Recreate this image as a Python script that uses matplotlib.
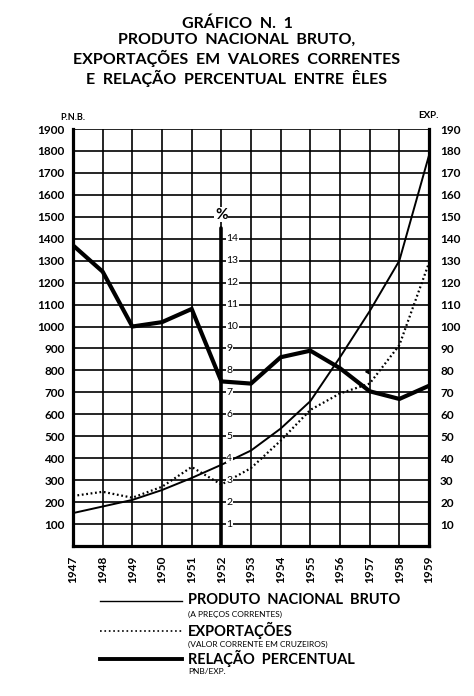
import matplotlib.pyplot as plt

plt.rcParams['font.family'] = ['Lato', 'DejaVu Sans']

years = list(range(1947, 1960))
pnb = [150, 180, 210, 255, 310, 370, 435, 535, 660, 860, 1070, 1300, 1780]
exportacoes = [22.8, 24.7, 22.0, 27.0, 36.0, 28.0, 35.5, 48.0, 62.0, 69.5, 74.0, 91.5, 129.0]
relacao = [13.7, 12.5, 10.0, 10.2, 10.8, 7.5, 7.4, 8.6, 8.9, 8.1, 7.05, 6.7, 7.3]

pnb_ticks = list(range(100, 2000, 100))
exp_ticks = list(range(10, 200, 10))
pct_ticks = list(range(1, 15))

titulo = "GRÁFICO  N.  1\nPRODUTO  NACIONAL  BRUTO,\nEXPORTAÇÕES  EM  VALORES  CORRENTES\nE  RELAÇÃO  PERCENTUAL  ENTRE  ÊLES"
W = "bold"

fig = plt.figure(figsize=(4.74, 6.96), dpi=100)
fig.text(0.5, 1 - 16 / 696, titulo, ha="center", va="top", fontsize=11.5, fontweight=W,
         linespacing=1.2)

ax = fig.add_axes([73 / 474, 1 - 546 / 696, 356 / 474, 417 / 696])
ax.set_xlim(1947, 1959)
ax.set_ylim(0, 1900)

# grid
for y in pnb_ticks:
    ax.axhline(y, color="black", lw=1.2, zorder=1)
for x in years:
    ax.axvline(x, color="black", lw=1.2, zorder=1)

for s in ["left", "bottom", "right"]:
    ax.spines[s].set_linewidth(2.3)
ax.spines["top"].set_visible(False)

ax.set_yticks(pnb_ticks)
ax.set_yticklabels([str(v) for v in pnb_ticks], fontsize=8.5, fontweight=W)
ax.tick_params(axis="y", length=0, pad=6)
ax.set_xticks(years)
ax.set_xticklabels([str(v) for v in years], rotation=90, fontsize=8.5, fontweight=W)
ax.tick_params(axis="x", length=0, pad=7)

ax2 = ax.twinx()
ax2.set_ylim(0, 190)
ax2.set_yticks(exp_ticks)
ax2.set_yticklabels([str(v) for v in exp_ticks], fontsize=8.5, fontweight=W)
ax2.tick_params(axis="y", length=0, pad=8)
for s in ax2.spines.values():
    s.set_visible(False)

fig.text(60 / 474, 1 - 117 / 696, "P.N.B.", fontsize=6.5, fontweight=W, va="center")
fig.text(418 / 474, 1 - 115 / 696, "EXP.", fontsize=7, fontweight=W, va="center")

# percent axis at 1952
ax3 = ax.twinx()
ax3.set_ylim(0, 19)
ax3.axis("off")
ax3.plot([1952, 1952], [0, 14.47], color="black", lw=2.6, solid_capstyle="round", zorder=4)
ax3.text(1952, 15.1, "%", ha="center", va="center", fontsize=11, fontweight=W,
         bbox=dict(facecolor="white", edgecolor="none", pad=0.5), zorder=5)
for p in pct_ticks:
    ax3.text(1952.17, p, str(p), ha="left", va="center", fontsize=7.5,
             bbox=dict(facecolor="white", edgecolor="none", pad=0.3), zorder=3)

# series
ax.plot(years, pnb, color="black", lw=1.4, zorder=6)
ax2.plot(years, exportacoes, color="black", lw=1.6, ls=(0, (0.8, 1.2)), zorder=6)
ax3.plot(years, relacao, color="black", lw=3.0, zorder=6, solid_joinstyle="miter")
ax.annotate("", xy=(1957.05, 770), xytext=(1956.85, 810),
            arrowprops=dict(arrowstyle="-|>", color="black", lw=0.8, mutation_scale=6))

# legend
lx0, lx1 = 100 / 474, 182 / 474
tx = 188 / 474
rows = [
    (601, 1.0, "-", "PRODUTO  NACIONAL  BRUTO", "(A PREÇOS CORRENTES)"),
    (631, 1.2, ":", "EXPORTAÇÕES", "(VALOR CORRENTE EM CRUZEIROS)"),
    (659, 2.8, "-", "RELAÇÃO  PERCENTUAL", "PNB/EXP."),
]
for ypx, lw, ls, big, small in rows:
    y = 1 - ypx / 696
    fig.add_artist(plt.Line2D([lx0, lx1], [y, y], color="black", lw=lw, ls=ls))
    fig.text(tx, 1 - (ypx - 1) / 696, big, fontsize=10.5, fontweight=W, va="center")
    fig.text(tx, 1 - (ypx + 13) / 696, small, fontsize=6, va="center")

fig.savefig("out.png", dpi=100)
